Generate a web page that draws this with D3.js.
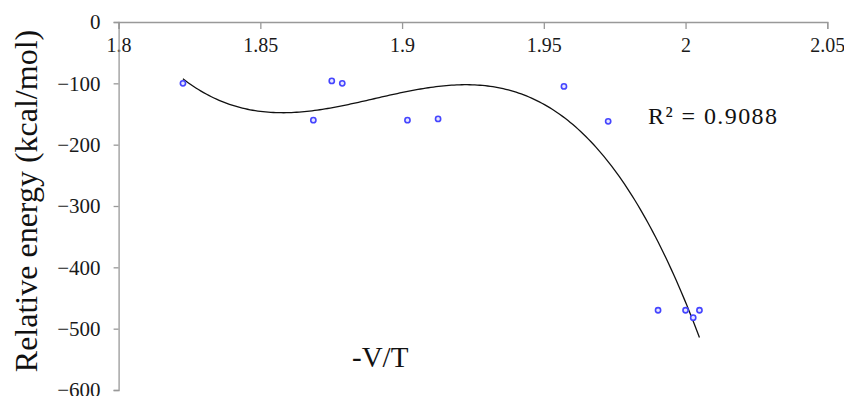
<!DOCTYPE html>
<html lang="en">
<head>
    <meta charset="UTF-8">
    <title>Relative energy vs -V/T</title>
    <script src="https://cdnjs.cloudflare.com/ajax/libs/d3/7.8.5/d3.min.js"></script>
    <style>
        body { margin: 0; background: #fff; }
        text { font-family: "Liberation Serif", "Times New Roman", serif; }
    </style>
</head>
<body>
    <div id="draw-here"></div>
    <script>
        // Data
        var xValues = [1.8227, 1.8687, 1.8752, 1.8789, 1.9019, 1.9127, 1.9571, 1.9727, 1.9903, 2.0000, 2.0027, 2.0049];
        var yValues = [-100, -160, -96, -100, -160, -158, -105, -162, -470, -470, -482, -470];
        var xTicks = [1.8, 1.85, 1.9, 1.95, 2, 2.05];
        var yTicks = [0, -100, -200, -300, -400, -500, -600];
        var rSquaredLabel = "R\u00b2 = 0.9088";

        var w = 844;
        var h = 396;
        var margin = { left: 118.6, right: 16.7, top: 22, bottom: 6 };

        var svg = d3.select("#draw-here")
            .append("svg")
            .attr("width", w)
            .attr("height", h);

        var x = d3.scaleLinear().domain([1.8, 2.05]).range([margin.left, w - margin.right]);
        var y = d3.scaleLinear().domain([0, -600]).range([margin.top, h - margin.bottom]);

        // x axis sits on the y = 0 line at the top
        var xAxis = svg.append("g")
            .attr("transform", "translate(0," + y(0) + ")")
            .call(d3.axisBottom(x).tickValues(xTicks).tickSize(7).tickPadding(4)
                .tickFormat(function(d) { return String(+d.toFixed(2)); }));

        var yAxis = svg.append("g")
            .attr("transform", "translate(" + x(1.8) + ",0)")
            .call(d3.axisLeft(y).tickValues(yTicks).tickSize(5).tickPadding(13)
                .tickFormat(d3.format("d")));

        [xAxis, yAxis].forEach(function(a) {
            a.select(".domain").attr("stroke", "#999").attr("stroke-width", 1.3);
            a.selectAll(".tick line").attr("stroke", "#999").attr("stroke-width", 1.3);
            a.selectAll(".tick text")
                .attr("fill", "#1a1a1a")
                .style("font-family", "'Liberation Serif', serif");
        });
        xAxis.selectAll(".tick text").style("font-size", "20px").attr("dy", "0.95em");
        yAxis.selectAll(".tick text").style("font-size", "21px");

        // cubic least squares trendline
        function polyFit(xs, ys, order) {
            var n = order + 1;
            var cx = 1.9;
            var A = [], b = [];
            for (var i = 0; i < n; i++) {
                A.push(new Array(n).fill(0));
                b.push(0);
            }
            xs.forEach(function(xv, k) {
                var t = (xv - cx) * 10;
                for (var i = 0; i < n; i++) {
                    b[i] += ys[k] * Math.pow(t, i);
                    for (var j = 0; j < n; j++) A[i][j] += Math.pow(t, i + j);
                }
            });
            // gaussian elimination
            for (var i = 0; i < n; i++) {
                var p = i;
                for (var r = i + 1; r < n; r++) if (Math.abs(A[r][i]) > Math.abs(A[p][i])) p = r;
                var tmp = A[i]; A[i] = A[p]; A[p] = tmp;
                var tb = b[i]; b[i] = b[p]; b[p] = tb;
                for (var r = i + 1; r < n; r++) {
                    var f = A[r][i] / A[i][i];
                    for (var c = i; c < n; c++) A[r][c] -= f * A[i][c];
                    b[r] -= f * b[i];
                }
            }
            var coef = new Array(n).fill(0);
            for (var i = n - 1; i >= 0; i--) {
                var s = b[i];
                for (var c = i + 1; c < n; c++) s -= A[i][c] * coef[c];
                coef[i] = s / A[i][i];
            }
            return function(xv) {
                var t = (xv - cx) * 10, s = 0;
                for (var i = 0; i < n; i++) s += coef[i] * Math.pow(t, i);
                return s;
            };
        }

        var fit = polyFit(xValues, yValues, 3);
        var xMin = d3.min(xValues), xMax = d3.max(xValues);
        var curve = d3.range(0, 201).map(function(i) {
            var xv = xMin + (xMax - xMin) * i / 200;
            return [xv, fit(xv)];
        });

        svg.append("path")
            .datum(curve)
            .attr("fill", "none")
            .attr("stroke", "#111")
            .attr("stroke-width", 1.3)
            .attr("d", d3.line().x(function(d) { return x(d[0]); }).y(function(d) { return y(d[1]); }));

        svg.selectAll("circle")
            .data(xValues)
            .enter()
            .append("circle")
            .attr("cx", function(d) { return x(d); })
            .attr("cy", function(d, i) { return y(yValues[i]); })
            .attr("r", 2.6)
            .attr("fill", "#e6e6ff")
            .attr("stroke", "#4545ff")
            .attr("stroke-width", 1.6);

        svg.append("text")
            .attr("x", 648)
            .attr("y", 124)
            .attr("font-size", "24px")
            .attr("textLength", 129)
            .attr("lengthAdjust", "spacing")
            .attr("fill", "#111")
            .text(rSquaredLabel);

        svg.append("text")
            .attr("x", 352)
            .attr("y", 367)
            .attr("font-size", "29px")
            .attr("fill", "#111")
            .text("-V/T");

        svg.append("text")
            .attr("transform", "translate(37,201) rotate(-90)")
            .attr("text-anchor", "middle")
            .attr("font-size", "32px")
            .attr("fill", "#111")
            .text("Relative energy (kcal/mol)");
    </script>
</body>
</html>
